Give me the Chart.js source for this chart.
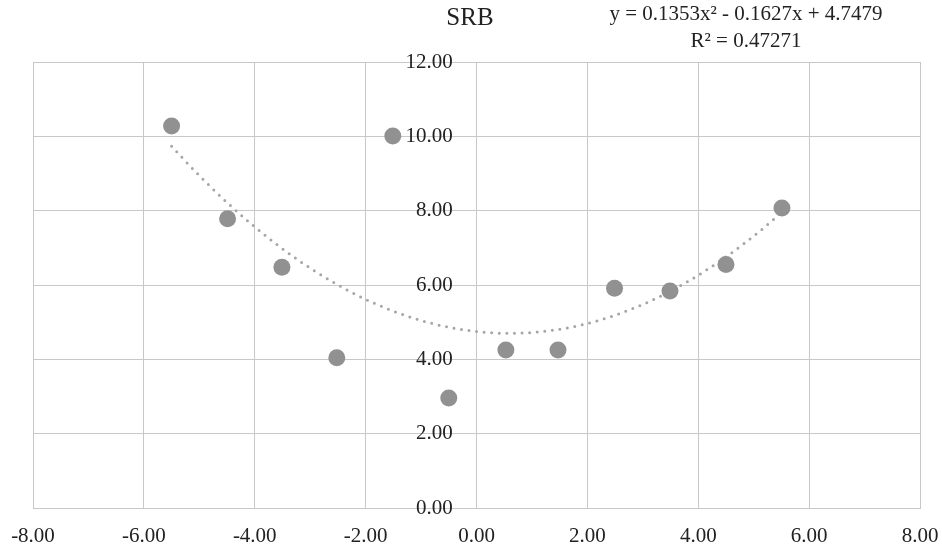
<!DOCTYPE html>
<html>
<head>
<meta charset="utf-8">
<script src="https://cdn.jsdelivr.net/npm/chart.js@4/dist/chart.umd.min.js"></script>
<style>
  html, body { margin: 0; padding: 0; background: #ffffff; }
  #wrap { width: 942px; height: 547px; }
</style>
</head>
<body>
<div id="wrap"><canvas id="c" width="942" height="547"></canvas></div>
<script>
// ---- data ----
const pointX = [-5.50, -4.49, -3.51, -2.52, -1.51, -0.50, 0.53, 1.47, 2.49, 3.49, 4.50, 5.51];
const pointY = [10.28, 7.78, 6.48, 4.04, 10.01, 2.96, 4.25, 4.25, 5.91, 5.84, 6.55, 8.07];
const trendCoef = [0.1353, -0.1627, 4.7479];   // a, b, c from the displayed equation
const trendRange = [-5.5, 5.5];
const xTicks = [-8, -6, -4, -2, 0, 2, 4, 6, 8];
const yTicks = [0, 2, 4, 6, 8, 10, 12];
const chartTitle = 'SRB';
const equationLines = ['y = 0.1353x\u00B2 - 0.1627x + 4.7479', 'R\u00B2 = 0.47271'];

const scatterData = pointX.map((x, i) => ({ x: x, y: pointY[i] }));
const trendData = [];
const steps = 60;
for (let i = 0; i <= steps; i++) {
  const x = trendRange[0] + (trendRange[1] - trendRange[0]) * i / steps;
  trendData.push({ x: x, y: trendCoef[0] * x * x + trendCoef[1] * x + trendCoef[2] });
}

const serif = "'Liberation Serif', 'DejaVu Serif', serif";
const gridColor = '#c8c8c8';

const textPlugin = {
  id: 'chartTexts',
  afterDraw(chart) {
    const ctx = chart.ctx;
    ctx.save();
    ctx.fillStyle = '#222222';
    ctx.textAlign = 'center';
    ctx.textBaseline = 'middle';
    ctx.font = '25px ' + serif;
    ctx.fillText(chartTitle, 470, 18);
    ctx.font = '21px ' + serif;
    ctx.fillText(equationLines[0], 746, 14);
    ctx.fillText(equationLines[1], 746, 41);
    ctx.restore();
  }
};

new Chart(document.getElementById('c'), {
  type: 'scatter',
  data: {
    datasets: [
      {
        label: 'trend',
        type: 'line',
        data: trendData,
        borderColor: '#a6a6a6',
        borderWidth: 3,
        borderDash: [0, 7.6],
        borderCapStyle: 'round',
        pointRadius: 0,
        fill: false,
        tension: 0,
        order: 2
      },
      {
        label: 'SRB',
        data: scatterData,
        backgroundColor: '#919191',
        borderColor: '#919191',
        borderWidth: 0,
        pointRadius: 8.5,
        pointHoverRadius: 8.5,
        order: 1
      }
    ]
  },
  options: {
    responsive: false,
    animation: false,
    layout: { padding: { left: 33, right: 22, top: 62, bottom: 0 } },
    plugins: {
      legend: { display: false },
      tooltip: { enabled: false },
      title: { display: false }
    },
    scales: {
      x: {
        type: 'linear',
        min: -8, max: 8,
        afterBuildTicks(scale) { scale.ticks = xTicks.map(v => ({ value: v })); },
        afterFit(scale) { scale.height = 39; scale.paddingLeft = 0; scale.paddingRight = 0; },
        grid: { color: gridColor, lineWidth: 1, drawTicks: false },
        border: { color: gridColor },
        ticks: {
          color: '#222222',
          font: { family: serif, size: 21 },
          padding: 16,
          maxRotation: 0,
          callback: v => Number(v).toFixed(2)
        }
      },
      y: {
        type: 'linear',
        position: { x: -0.43 },
        min: 0, max: 12,
        afterBuildTicks(scale) { scale.ticks = yTicks.map(v => ({ value: v })); },
        afterFit(scale) { scale.paddingTop = 0; scale.paddingBottom = 0; },
        grid: { color: gridColor, lineWidth: 1, drawTicks: false },
        border: { display: false },
        ticks: {
          color: '#222222',
          font: { family: serif, size: 21 },
          padding: 0,
          callback: v => Number(v).toFixed(2)
        }
      }
    }
  },
  plugins: [textPlugin]
});
</script>
</body>
</html>
